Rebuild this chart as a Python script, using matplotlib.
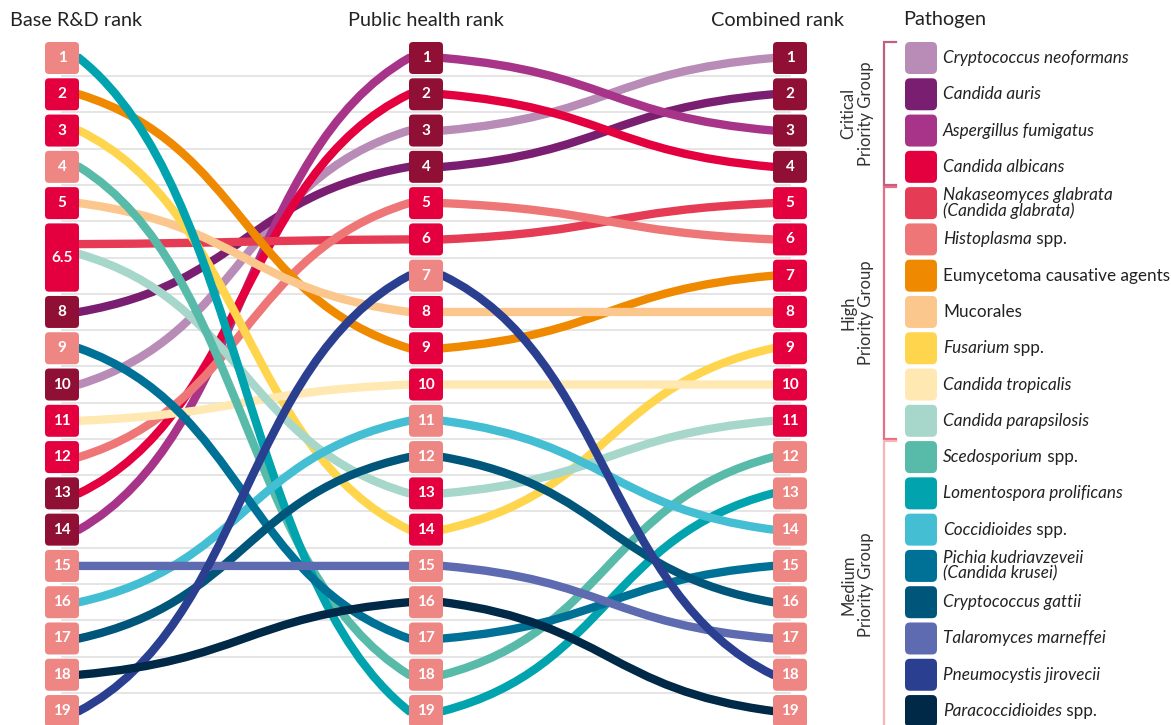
import numpy as np
import matplotlib.pyplot as plt
from matplotlib.path import Path
from matplotlib.patches import PathPatch, FancyBboxPatch

plt.rcParams['font.family'] = ['Lato', 'DejaVu Sans']

# --- data -------------------------------------------------------------
pathogens = [
    ("Cryptococcus neoformans", ""), ("Candida auris", ""),
    ("Aspergillus fumigatus", ""), ("Candida albicans", ""),
    ("Nakaseomyces glabrata\n(Candida glabrata)", ""), ("Histoplasma", " spp."),
    ("", "Eumycetoma causative agents"), ("", "Mucorales"),
    ("Fusarium", " spp."), ("Candida tropicalis", ""),
    ("Candida parapsilosis", ""), ("Scedosporium", " spp."),
    ("Lomentospora prolificans", ""), ("Coccidioides", " spp."),
    ("Pichia kudriavzeveii\n(Candida krusei)", ""), ("Cryptococcus gattii", ""),
    ("Talaromyces marneffei", ""), ("Pneumocystis jirovecii", ""),
    ("Paracoccidioides", " spp."),
]
rd_rank = [10, 8, 14, 13, 6.5, 12, 2, 5, 3, 11, 6.5, 4, 1, 16, 9, 17, 15, 19, 18]
ph_rank = [3, 4, 1, 2, 6, 5, 9, 8, 14, 10, 13, 18, 19, 11, 17, 12, 15, 7, 16]
comb_rank = list(range(1, 20))
priority = ["Critical"] * 4 + ["High"] * 7 + ["Medium"] * 8

columns = ["Base R&D rank", "Public health rank", "Combined rank"]
line_colors = ["#b98bb7", "#7a1e72", "#a8348a", "#e4003f", "#e63b55", "#ef7677",
               "#ef8a00", "#fbc78d", "#ffd54d", "#ffe8b2", "#a6d7ca", "#58bba9",
               "#00a3ae", "#44bed3", "#007196", "#00557a", "#5e6bb0", "#2b3f91",
               "#002847"]
group_colors = {"Critical": "#901035", "High": "#e4003f", "Medium": "#ee8683"}
bracket_colors = {"Critical": "#c0607e", "High": "#ea6d88", "Medium": "#f6b6b6"}

# --- layout (pixels) ----------------------------------------------------
W, H = 1171, 725
X0, DX = 62, 364
Y0, DY = 58, 36.28
HW = 17 / DX
HH = 16 / DY


def px_x(p):
    return (p - X0) / DX


def px_y(p):
    return 1 + (p - Y0) / DY


fig = plt.figure(figsize=(W / 100, H / 100), dpi=100)
ax = fig.add_axes([0, 0, 1, 1])
ax.set_xlim(px_x(0), px_x(W))
ax.set_ylim(px_y(H), px_y(0))
ax.axis('off')

col_ranks = [rd_rank, ph_rank, comb_rank]


def line_pos(ranks):
    pos = np.array(ranks, float)
    for r in set(ranks):
        idx = [i for i, v in enumerate(ranks) if v == r]
        if len(idx) > 1:
            for k, i in enumerate(idx):
                pos[i] = r - 0.37 + 0.27 * k
    return pos


def bump_path(ys, a=0.5, b=0.2):
    verts = [(-HW, ys[0]), (HW, ys[0])]
    codes = [Path.MOVETO, Path.LINETO]
    for c in range(len(ys) - 1):
        x0, y0 = c + HW, ys[c]
        x1, y1 = c + 1 - HW, ys[c + 1]
        dx, dy = x1 - x0, y1 - y0
        verts += [(x0 + a * dx, y0 + b * dy), (x1 - a * dx, y1 - b * dy),
                  (x1, y1), (x1 + 2 * HW, y1)]
        codes += [Path.CURVE4] * 3 + [Path.LINETO]
    return Path(verts, codes)


# grid
for r in np.arange(1.5, 19, 1):
    ax.plot([0, 2], [r, r], color="#e3e3e3", lw=1.3, zorder=0)

# lines
pos = [line_pos(r) for r in col_ranks]
for i in range(len(pathogens)):
    ys = [pos[c][i] for c in range(3)]
    ax.add_patch(PathPatch(bump_path(ys), fill=False, ec=line_colors[i],
                           lw=6, capstyle='butt', zorder=2))

# rank boxes
for c, ranks in enumerate(col_ranks):
    for r in sorted(set(ranks)):
        idx = [i for i, v in enumerate(ranks) if v == r]
        lo = r - (len(idx) - 1) / 2 - HH
        hi = r + (len(idx) - 1) / 2 + HH
        ax.add_patch(FancyBboxPatch((c - HW, lo), 2 * HW, hi - lo,
                                    boxstyle="round,pad=0,rounding_size=%f" % (4 / DX),
                                    mutation_aspect=DX / DY, fc=group_colors[priority[idx[0]]],
                                    ec='none', zorder=3))
        label = str(int(r)) if r == int(r) else str(r)
        ax.text(c, r, label, color='white', fontsize=11, fontweight='bold',
                ha='center', va='center', zorder=4)

# column titles
tkw = dict(fontsize=14.3, color='#222', va='center')
ax.text(px_x(10), px_y(20), columns[0], ha='left', **tkw)
ax.text(px_x(426), px_y(20), columns[1], ha='center', **tkw)
ax.text(px_x(777), px_y(20), columns[2], ha='center', **tkw)
ax.text(px_x(903), px_y(20), "Pathogen", ha='left', **tkw)

# legend
lkw = dict(fontsize=12.3, color='#222')
for i, (ital, reg) in enumerate(pathogens):
    y = comb_rank[i]
    ax.add_patch(FancyBboxPatch((px_x(905), y - HH), 32 / DX, 2 * HH,
                                boxstyle="round,pad=0,rounding_size=%f" % (5 / DX),
                                mutation_aspect=DX / DY, fc=line_colors[i], ec='none'))
    if ital:
        t = ax.text(px_x(943), y, ital, style='italic', ha='left', va='center',
                    linespacing=0.95, **lkw)
        if reg:
            ax.annotate(reg, xy=(1, 0), xycoords=t, ha='left', va='bottom', **lkw)
    else:
        ax.text(px_x(943), y, reg, ha='left', va='center', **lkw)

# priority group brackets
bx, bt = px_x(884), px_x(896)
for g in ["Critical", "High", "Medium"]:
    ranks = [comb_rank[i] for i in range(len(priority)) if priority[i] == g]
    top = min(ranks) - 0.44
    bot = max(ranks) + 0.5
    ax.plot([bt, bx, bx, bt], [top, top, bot, bot], color=bracket_colors[g], lw=1.6,
            solid_joinstyle='miter')
    mid = (top + min(bot, px_y(H + 3))) / 2
    ax.text(px_x(857), mid, g + "\nPriority Group", rotation=90, fontsize=12,
            color='#333', ha='center', va='center', multialignment='center',
            linespacing=1.1)

fig.savefig("out.png", dpi=100)
